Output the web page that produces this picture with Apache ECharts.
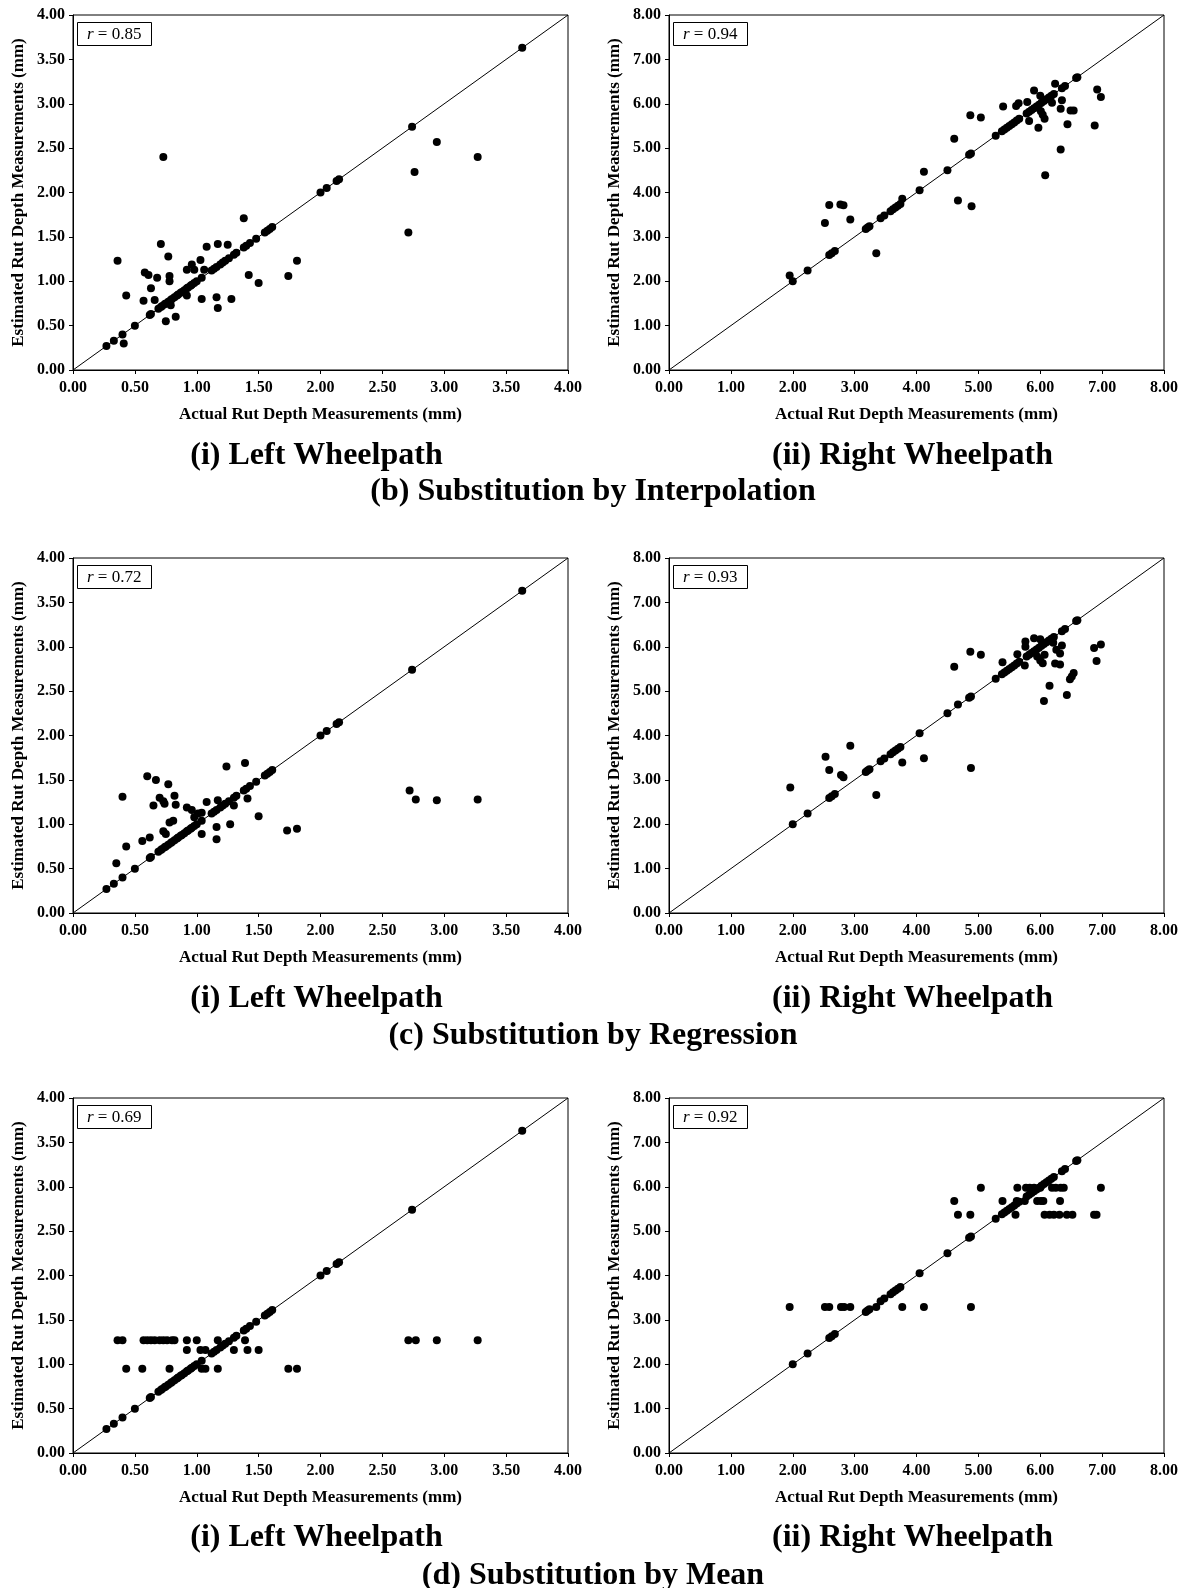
<!DOCTYPE html>
<html>
<head>
<meta charset="utf-8">
<title>Rut depth substitution</title>
<script src="https://cdn.jsdelivr.net/npm/echarts@6/dist/echarts.min.js"></script>
<style>
    html, body { margin: 0; padding: 0; background: #fff; }
    #chart { width: 1185px; height: 1588px; }
</style>
</head>
<body>
<div id="chart"></div>
<script>
    // actual measurements that were not missing: estimate equals actual
    const leftObserved = [0.27, 0.33, 0.40, 0.50, 0.62, 0.63, 0.69, 0.71, 0.72, 0.74, 0.75, 0.77,
        0.79, 0.80, 0.82, 0.84, 0.85, 0.87, 0.88, 0.90, 0.92, 0.93, 0.95,
        0.96, 0.98, 1.00, 1.04, 1.12, 1.14, 1.16, 1.19, 1.21, 1.23, 1.26, 1.30, 1.32, 1.38, 1.40, 1.43,
        1.48, 1.55, 1.57, 1.59, 1.61, 2.00, 2.05, 2.13, 2.15, 2.74, 3.63];
    const rightObserved = [2.00, 2.24, 2.59, 2.63, 2.68, 3.18, 3.21, 3.24, 3.42, 3.48, 3.58, 3.62, 3.66, 3.70, 3.74,
        4.05, 4.50, 4.85, 4.88, 5.28, 5.38, 5.42, 5.46, 5.50, 5.54, 5.58, 5.62, 5.66, 5.78, 5.82, 5.86, 5.90, 5.94,
        5.98, 6.02, 6.06, 6.10, 6.14, 6.18, 6.22, 6.35, 6.40, 6.58, 6.60];

    // substituted points [actual, estimated]
    const leftInterp = [[0.73, 2.40], [2.94, 2.57], [3.27, 2.40], [2.76, 2.23], [2.71, 1.55], [1.38, 1.71],
        [0.71, 1.42], [1.17, 1.42], [1.25, 1.41], [1.08, 1.39], [0.36, 1.23], [0.77, 1.28], [1.81, 1.23],
        [1.03, 1.24], [0.96, 1.19], [0.98, 1.13], [0.92, 1.13], [1.06, 1.13], [0.58, 1.10], [0.61, 1.07],
        [0.68, 1.04], [0.78, 1.06], [0.78, 1.00], [0.63, 0.92], [1.42, 1.07], [1.50, 0.98], [1.74, 1.06],
        [0.43, 0.84], [0.57, 0.78], [0.66, 0.79], [1.04, 0.80], [1.16, 0.82], [1.28, 0.80], [1.17, 0.70],
        [0.92, 0.84], [0.79, 0.73], [0.75, 0.55], [0.83, 0.60], [0.41, 0.30]];
    const leftRegr = [[1.24, 1.65], [1.39, 1.69], [0.60, 1.54], [0.67, 1.50], [0.77, 1.45], [0.40, 1.31],
        [0.70, 1.30], [0.73, 1.26], [0.74, 1.23], [0.82, 1.32], [0.65, 1.21], [0.83, 1.22], [1.08, 1.25],
        [1.17, 1.27], [1.30, 1.21], [1.41, 1.29], [0.92, 1.19], [0.96, 1.16], [0.98, 1.08], [1.01, 1.12],
        [1.04, 1.13], [1.50, 1.09], [1.73, 0.93], [1.81, 0.95], [0.81, 1.04], [0.78, 1.02], [0.73, 0.92],
        [0.75, 0.89], [1.04, 0.89], [1.16, 0.97], [1.27, 1.00], [1.16, 0.83], [0.56, 0.81], [0.62, 0.85],
        [0.43, 0.75], [0.35, 0.56], [2.72, 1.38], [2.77, 1.28], [2.94, 1.27], [3.27, 1.28]];
    const leftMean = [[0.36, 1.27], [0.40, 1.27], [0.57, 1.27], [0.60, 1.27], [0.63, 1.27], [0.66, 1.27],
        [0.70, 1.27], [0.73, 1.27], [0.76, 1.27], [0.80, 1.27], [0.82, 1.27], [0.92, 1.27], [1.00, 1.27],
        [1.17, 1.27], [1.39, 1.27], [2.71, 1.27], [2.77, 1.27], [2.94, 1.27], [3.27, 1.27],
        [0.92, 1.16], [1.03, 1.16], [1.07, 1.16], [1.30, 1.16], [1.41, 1.16], [1.50, 1.16],
        [0.43, 0.95], [0.56, 0.95], [0.78, 0.95], [1.04, 0.95], [1.07, 0.95], [1.17, 0.95], [1.74, 0.95],
        [1.81, 0.95]];

    const rightInterp = [[1.95, 2.13], [2.52, 3.31], [2.59, 3.72], [2.77, 3.73], [2.82, 3.71], [2.93, 3.39],
        [3.35, 2.63], [3.77, 3.86], [4.12, 4.47], [4.61, 5.21], [4.67, 3.82], [4.89, 3.69], [4.87, 5.74],
        [5.04, 5.69], [5.40, 5.94], [5.61, 5.95], [5.65, 6.01], [5.79, 6.04], [5.82, 5.61], [5.90, 6.30],
        [5.97, 5.46], [6.00, 6.18], [6.01, 5.83], [6.04, 5.75], [6.07, 5.66], [6.08, 4.39], [6.19, 6.02],
        [6.24, 6.45], [6.33, 5.89], [6.35, 6.08], [6.33, 4.97], [6.44, 5.54], [6.49, 5.85], [6.54, 5.85],
        [6.88, 5.51], [6.92, 6.32], [6.98, 6.15]];
    const rightRegr = [[1.96, 2.83], [2.53, 3.52], [2.59, 3.22], [2.78, 3.11], [2.82, 3.06], [2.93, 3.77],
        [3.35, 2.66], [3.77, 3.39], [4.12, 3.49], [4.61, 5.55], [4.67, 4.70], [4.88, 3.27], [4.87, 5.89],
        [5.04, 5.82], [5.39, 5.65], [5.63, 5.83], [5.76, 6.12], [5.76, 6.00], [5.75, 5.58], [5.90, 6.19],
        [6.00, 6.17], [5.95, 5.78], [6.00, 5.69], [6.04, 5.63], [6.07, 5.82], [6.15, 5.12], [6.06, 4.78],
        [6.24, 5.62], [6.32, 5.60], [6.26, 5.93], [6.32, 5.85], [6.35, 6.03], [6.21, 6.09], [6.43, 4.91],
        [6.48, 5.27], [6.51, 5.33], [6.54, 5.41], [6.87, 5.97], [6.98, 6.05], [6.91, 5.68]];
    const rightMean = [[1.95, 3.29], [2.52, 3.29], [2.59, 3.29], [2.78, 3.29], [2.83, 3.29], [2.93, 3.29],
        [3.35, 3.29], [3.77, 3.29], [4.12, 3.29], [4.88, 3.29],
        [5.04, 5.98], [5.63, 5.98], [5.77, 5.98], [5.83, 5.98], [5.90, 5.98], [6.00, 5.98], [6.19, 5.98],
        [6.25, 5.98], [6.33, 5.98], [6.38, 5.98], [6.98, 5.98],
        [4.61, 5.68], [5.39, 5.68], [5.62, 5.68], [5.75, 5.68], [5.95, 5.68], [6.01, 5.68], [6.05, 5.68],
        [6.32, 5.68],
        [4.67, 5.37], [4.87, 5.37], [5.60, 5.37], [6.07, 5.37], [6.15, 5.37], [6.22, 5.37], [6.31, 5.37],
        [6.43, 5.37], [6.52, 5.37], [6.87, 5.37], [6.91, 5.37]];

    const correlations = ['0.85', '0.94', '0.72', '0.93', '0.69', '0.92'];
    const panelTitles = ['(i) Left Wheelpath', '(ii) Right Wheelpath'];
    const captions = ['(b) Substitution by Interpolation', '(c) Substitution by Regression', '(d) Substitution by Mean'];
    const xName = 'Actual Rut Depth Measurements (mm)';
    const yName = 'Estimated Rut Depth Measurements (mm)';

    const serif = '"Liberation Serif", "Times New Roman", serif';
    const rowTop = [15, 558, 1098];
    const colLeft = [73, 669];
    const plotW = 495, plotH = 355;
    const subY = [[456, 492], [999, 1036], [1538, 1576]];

    const panels = [
        {max: 4, step: 0.5, observed: leftObserved, missing: leftInterp},
        {max: 8, step: 1, observed: rightObserved, missing: rightInterp},
        {max: 4, step: 0.5, observed: leftObserved, missing: leftRegr},
        {max: 8, step: 1, observed: rightObserved, missing: rightRegr},
        {max: 4, step: 0.5, observed: leftObserved, missing: leftMean},
        {max: 8, step: 1, observed: rightObserved, missing: rightMean}
    ];

    const grid = [], xAxis = [], yAxis = [], series = [], title = [], graphic = [];

    panels.forEach((p, i) => {
        const row = Math.floor(i / 2), col = i % 2;
        grid.push({
            left: colLeft[col], top: rowTop[row], width: plotW, height: plotH,
            show: true, borderColor: '#000', borderWidth: 1, backgroundColor: 'transparent'
        });
        const axisCommon = {
            type: 'value', gridIndex: i, min: 0, max: p.max, interval: p.step,
            name: '', nameLocation: 'middle',
            nameTextStyle: {fontFamily: serif, fontWeight: 'bold', fontSize: 17, color: '#000'},
            axisLine: {show: true, onZero: false, lineStyle: {color: '#000', width: 1}},
            axisTick: {show: true, inside: false, length: 4, lineStyle: {color: '#000'}},
            axisLabel: {
                fontFamily: serif, fontWeight: 'bold', fontSize: 16, color: '#000', margin: 8,
                formatter: v => v.toFixed(2)
            },
            splitLine: {show: false}
        };
        xAxis.push(Object.assign({}, axisCommon, {
            name: xName, nameGap: 36,
            axisLabel: Object.assign({}, axisCommon.axisLabel, {margin: 10})
        }));
        yAxis.push(Object.assign({}, axisCommon, {name: yName, nameGap: 46}));

        series.push({
            type: 'line', xAxisIndex: i, yAxisIndex: i, silent: true, symbol: 'none',
            data: [[0, 0], [p.max, p.max]],
            lineStyle: {color: '#000', width: 1}, z: 1
        });
        series.push({
            type: 'scatter', xAxisIndex: i, yAxisIndex: i, symbol: 'circle', symbolSize: 8,
            itemStyle: {color: '#000', opacity: 1}, z: 2,
            data: p.observed.map(v => [v, v])
        });
        series.push({
            type: 'scatter', xAxisIndex: i, yAxisIndex: i, symbol: 'circle', symbolSize: 8,
            itemStyle: {color: '#000', opacity: 1}, z: 2,
            data: p.missing
        });

        title.push({
            text: '{i|r} = ' + correlations[i],
            left: colLeft[col] + 4, top: rowTop[row] + 7,
            padding: [4, 10, 3, 10],
            borderColor: '#000', borderWidth: 1, backgroundColor: '#fff',
            textStyle: {
                fontFamily: serif, fontWeight: 'normal', fontSize: 17, color: '#000',
                rich: {i: {fontFamily: serif, fontStyle: 'italic', fontSize: 17, color: '#000'}}
            }
        });

        graphic.push({
            type: 'text', x: colLeft[col] + plotW / 2 - 4, y: subY[row][0],
            style: {
                text: panelTitles[col], fill: '#000', fontFamily: serif, fontWeight: 'bold',
                fontSize: 32, align: 'center', verticalAlign: 'middle'
            }
        });
    });

    captions.forEach((c, row) => {
        graphic.push({
            type: 'text', x: 593, y: subY[row][1],
            style: {
                text: c, fill: '#000', fontFamily: serif, fontWeight: 'bold',
                fontSize: 32, align: 'center', verticalAlign: 'middle'
            }
        });
    });

    const myChart = echarts.init(document.getElementById('chart'), null, {renderer: 'canvas'});
    myChart.setOption({
        animation: false,
        backgroundColor: '#fff',
        title: title,
        grid: grid,
        xAxis: xAxis,
        yAxis: yAxis,
        series: series,
        graphic: graphic
    });
</script>
</body>
</html>
